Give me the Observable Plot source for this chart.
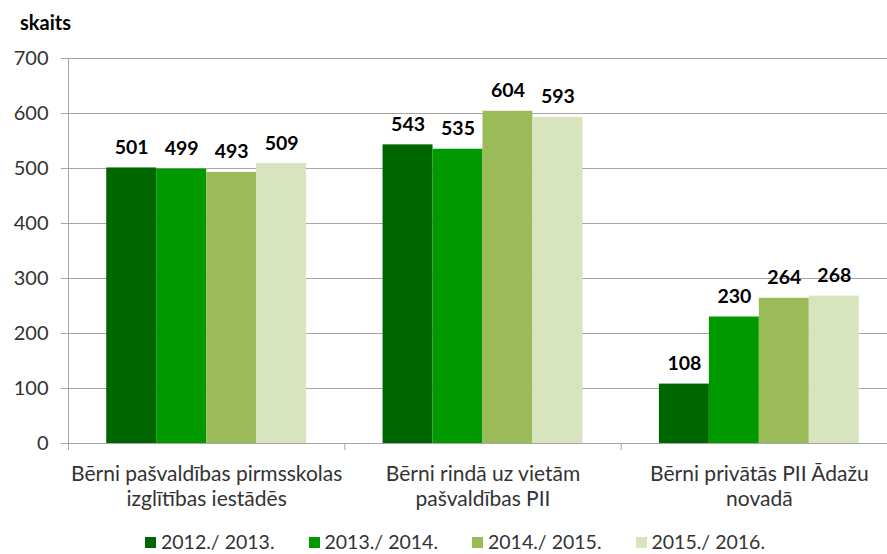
<!DOCTYPE html>
<html><head><meta charset="utf-8">
<script src="https://cdn.jsdelivr.net/npm/d3@7"></script>
<script src="https://cdn.jsdelivr.net/npm/@observablehq/plot@0.6"></script>
<style>
body{margin:0;background:#fff;font-family:Lato,"Open Sans",sans-serif;}
#wrap{position:relative;width:887px;height:554px;overflow:hidden;background:#fff;}
#chart{position:absolute;left:0;top:0;width:897px;}
#chart svg{max-width:none !important;}
#title{position:absolute;left:20px;top:10px;font-weight:bold;font-size:20px;color:#000;}
#legend{position:absolute;left:145px;top:531px;display:flex;font-size:19.5px;color:#333;line-height:22px;}
#legend .item{display:flex;align-items:center;margin-right:34px;}
#legend .sw{width:11px;height:11px;margin-right:5px;}
</style></head>
<body>
<div id="wrap">
  <div id="chart"></div>
  <div id="title">skaits</div>
  <div id="legend"></div>
</div>
<script>
const categories = [
  "Bērni pašvaldības pirmsskolas\nizglītības iestādēs",
  "Bērni rindā uz vietām\npašvaldības PII",
  "Bērni privātās PII Ādažu\nnovadā"
];
const series = ["2012./ 2013.", "2013./ 2014.", "2014./ 2015.", "2015./ 2016."];
const values2012 = [501, 543, 108];
const values2013 = [499, 535, 230];
const values2014 = [493, 604, 264];
const values2015 = [509, 593, 268];
const yTicks = [0, 100, 200, 300, 400, 500, 600, 700];
const colors = ["#006600", "#009900", "#9BBB59", "#D7E4BD"];

const seriesValues = [values2012, values2013, values2014, values2015];
const sub = d3.scaleBand(series, [0, 1]).paddingInner(0).paddingOuter(0.765);
const rows = [];
categories.forEach((c, ci) => {
  series.forEach((s, si) => {
    const x1 = ci + sub(s);
    rows.push({cat: c, series: s, value: seriesValues[si][ci], x1, x2: x1 + sub.bandwidth()});
  });
});
const cats = categories.map((c, i) => ({label: c, x: i + 0.5}));
const seps = d3.range(categories.length + 1);

const plot = Plot.plot({
  width: 897,
  height: 520,
  marginTop: 58,
  marginBottom: 77,
  marginLeft: 68,
  marginRight: 0,
  style: {fontFamily: "Lato, 'Open Sans', sans-serif", background: "transparent", maxWidth: "none"},
  x: {type: "linear", domain: [0, categories.length], axis: null},
  y: {domain: [0, 700], axis: null},
  color: {domain: series, range: colors},
  marks: [
    Plot.ruleY(yTicks, {y: d => d, x1: -0.026, x2: categories.length, stroke: "#a6a6a6", strokeWidth: 1}),
    Plot.ruleX(seps, {x: d => d, y1: d => d === 0 ? 700 : 0, y2: -13, stroke: "#a6a6a6", strokeWidth: 1}),
    Plot.text(yTicks, {x: 0, y: d => d, text: d => String(d), textAnchor: "end", dx: -20, fontSize: 20, fill: "#333"}),
    Plot.rectY(rows, {x1: "x1", x2: "x2", y: "value", fill: "series", inset: 0}),
    Plot.text(rows, {x: d => (d.x1 + d.x2) / 2, y: "value", text: d => String(d.value), lineAnchor: "bottom", dy: -14, fontSize: 19.5, fontWeight: "bold", fill: "#000"}),
    Plot.text(cats, {x: "x", y: 0, text: "label", lineAnchor: "top", dy: 20, fontSize: 21, lineHeight: 1.17, fill: "#333"})
  ]
});
plot.style.maxWidth = "none";
document.getElementById("chart").appendChild(plot);

const legend = document.getElementById("legend");
series.forEach((s, i) => {
  const item = document.createElement("div");
  item.className = "item";
  const sw = document.createElement("span");
  sw.className = "sw";
  sw.style.background = colors[i];
  const t = document.createElement("span");
  t.textContent = s;
  item.appendChild(sw);
  item.appendChild(t);
  legend.appendChild(item);
});
</script>
</body></html>
